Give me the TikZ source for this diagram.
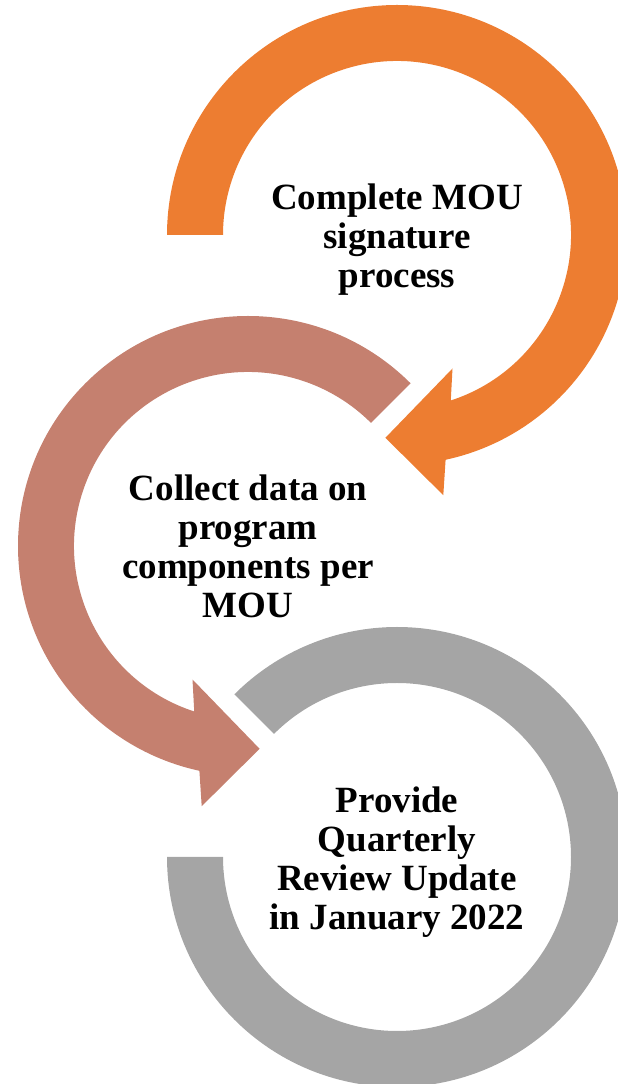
\documentclass[tikz,border=0pt]{standalone}
\usepackage{fontspec}
\setmainfont{Liberation Serif}
\definecolor{orangec}{HTML}{ED7D31}
\definecolor{brownc}{HTML}{C5806F}
\definecolor{grayc}{HTML}{A5A5A5}
\begin{document}
\begin{tikzpicture}[x=1bp,y=1bp,
  lbl/.style={align=center, inner sep=0pt, text=black,
    font=\bfseries\fontsize{37bp}{38.8bp}\selectfont}]
\useasboundingbox (0,0) rectangle (618,1084);
\clip (0,0) rectangle (618,1084);
% orange circular arrow (clockwise)
\fill[orangec, shift={(397,849)}]
  (180:230) arc[start angle=180, end angle=-77.8, radius=230]
  -- (46.3,-260.2) -- (-11.6,-202.8) -- (55.5,-133.5)
  -- (-72:174) arc[start angle=-72, end angle=180, radius=174] -- cycle;
% brown circular arrow (counter-clockwise)
\fill[brownc, shift={(248,538)}]
  (45:230) arc[start angle=45, end angle=257.8, radius=230]
  -- (-46.3,-260.2) -- (11.6,-202.8) -- (-55.5,-133.5)
  -- (252:174) arc[start angle=252, end angle=45, radius=174] -- cycle;
% gray ring band
\fill[grayc, shift={(397,227)}]
  (180:230) arc[start angle=180, end angle=495, radius=230]
  -- (135:174) arc[start angle=495, end angle=180, radius=174] -- cycle;
\node[lbl] (t1) at (397,844.3) {Complete MOU\\signature\\process};
\node[lbl] (t2) at (248,537.5) {Collect data on\\program\\components per\\MOU};
\node[lbl] (t3) at (397,221.8) {Provide\\Quarterly\\Review Update\\in January 2022};
\end{tikzpicture}
\end{document}
